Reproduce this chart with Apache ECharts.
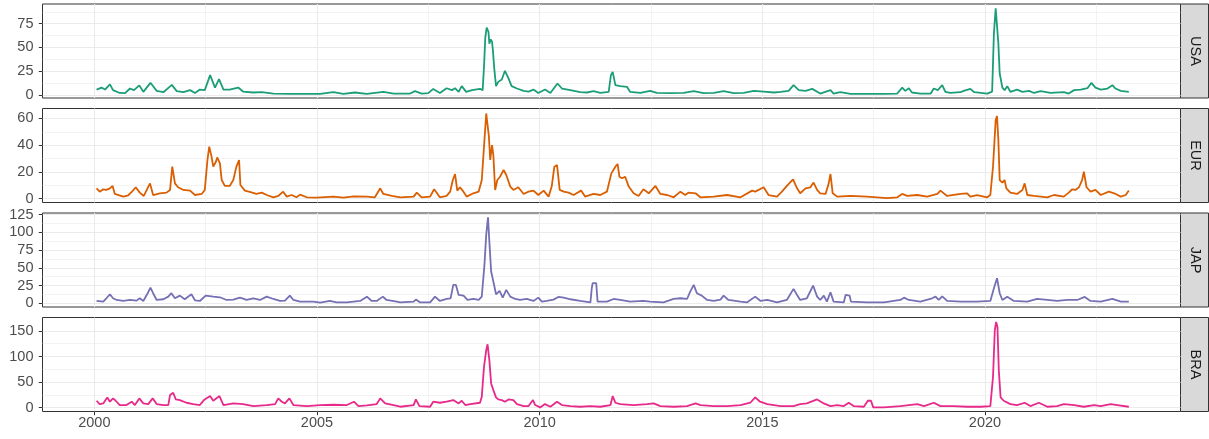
<!DOCTYPE html>
<html>
<head>
<meta charset="utf-8">
<title>Facets</title>
<script src="https://cdn.jsdelivr.net/npm/echarts@6/dist/echarts.min.js"></script>
<style>
  html, body { margin: 0; padding: 0; background: #fff; }
  #chart { width: 1209px; height: 439px; }
</style>
</head>
<body>
<div id="chart"></div>
<script>
// panel names, top to bottom
var panels = ['USA', 'EUR', 'JAP', 'BRA'];

// [decimal year, value]
var usa = [
  [2000.05,5.6],[2000.16,7.7],[2000.24,5.6],[2000.35,11],[2000.42,5],[2000.57,2],[2000.69,1.8],[2000.80,6.7],
  [2000.89,5],[2001.01,10],[2001.10,3.2],[2001.26,12.7],[2001.40,4.2],[2001.55,2.8],[2001.74,10.5],[2001.85,3.9],
  [2002.00,2.8],[2002.15,5],[2002.26,2],[2002.37,5.6],[2002.48,5],[2002.60,20.8],[2002.71,7.7],[2002.80,16.5],
  [2002.90,5.6],[2003.04,5.6],[2003.23,7.7],[2003.34,3.5],[2003.57,2.5],[2003.76,2.8],[2004.02,1.4],[2004.39,1.1],
  [2004.77,1.1],[2005.07,1.1],[2005.37,2.8],[2005.59,1.1],[2005.85,2.5],[2006.12,1.1],[2006.49,3.2],[2006.72,1.4],
  [2006.87,1.4],[2007.09,1.4],[2007.20,3.9],[2007.35,1.4],[2007.50,1.8],[2007.61,6.3],[2007.76,2],[2007.91,7],
  [2008.03,5],[2008.10,7],[2008.18,3.2],[2008.25,9.2],[2008.35,3.2],[2008.48,5],[2008.66,6.3],[2008.72,5],
  [2008.75,29.6],[2008.78,61],[2008.81,71],[2008.85,66.5],[2008.87,54],[2008.90,58.5],[2008.93,56],[2008.95,47],
  [2008.98,28],[2009.02,9.2],[2009.07,13.7],[2009.15,16.2],[2009.22,25.4],[2009.30,17.3],[2009.37,9.2],[2009.49,6.7],
  [2009.64,4.2],[2009.75,3.5],[2009.86,5.6],[2009.97,2],[2010.12,5.6],[2010.24,2],[2010.40,12],[2010.50,6.7],
  [2010.69,5],[2010.91,2.8],[2011.06,2.5],[2011.21,3.9],[2011.36,2],[2011.55,3.2],[2011.60,20.8],[2011.64,24.3],
  [2011.70,10.2],[2011.81,9.2],[2011.96,8.5],[2012.03,3.2],[2012.26,2],[2012.48,4.2],[2012.63,2],[2012.93,1.8],
  [2013.23,2],[2013.46,3.9],[2013.68,1.8],[2013.91,2],[2014.13,3.9],[2014.36,1.8],[2014.58,2],[2014.81,4.2],
  [2015.03,3.5],[2015.26,2.5],[2015.41,3.2],[2015.59,4.2],[2015.70,10.2],[2015.82,5],[2015.97,4.2],[2016.12,6.3],
  [2016.30,1.4],[2016.53,5],[2016.60,1.4],[2016.75,2.8],[2016.98,1.1],[2017.35,1.1],[2017.73,1.1],[2018.03,1.4],
  [2018.14,7.7],[2018.21,4.2],[2018.29,7],[2018.36,2.5],[2018.55,1.4],[2018.78,1.4],[2018.85,6.7],[2018.94,5],
  [2019.04,10.2],[2019.11,3.2],[2019.22,2],[2019.45,2.8],[2019.52,4.2],[2019.67,6.3],[2019.76,2.8],[2020.05,1.4],
  [2020.16,3.5],[2020.20,64.8],[2020.24,91.2],[2020.27,89.4],[2020.30,54.2],[2020.33,22.5],[2020.39,7.7],[2020.44,5],
  [2020.50,9.2],[2020.57,3.2],[2020.72,5.6],[2020.84,3.2],[2020.99,4.2],[2021.10,2],[2021.25,3.9],[2021.47,2],
  [2021.77,2.8],[2021.88,1.4],[2022.00,5],[2022.15,5.6],[2022.30,7],[2022.39,12.7],[2022.48,7.7],[2022.60,5.6],
  [2022.75,6.7],[2022.86,10.2],[2022.93,6.7],[2023.05,4.2],[2023.23,3.2]
];
var eur = [
  [2000.05,7.7],[2000.12,5.2],[2000.20,7],[2000.27,6.5],[2000.35,7.7],[2000.41,9.5],[2000.46,3.5],[2000.65,1.5],
  [2000.76,2.5],[2000.84,5],[2000.93,8.5],[2001.02,4.5],[2001.11,2],[2001.25,11.4],[2001.32,2.7],[2001.47,4],
  [2001.62,4.5],[2001.70,6.5],[2001.75,23.9],[2001.81,11.4],[2001.88,8.5],[2002.00,6.5],[2002.15,6],[2002.26,2.7],
  [2002.41,3.5],[2002.48,6.5],[2002.54,28.9],[2002.58,38.8],[2002.63,31.8],[2002.67,23.9],[2002.73,27.6],[2002.76,30.8],
  [2002.82,26.4],[2002.86,13.9],[2002.93,9.5],[2003.04,9.5],[2003.12,13.9],[2003.19,23.9],[2003.25,28.9],[2003.28,10.2],
  [2003.38,6],[2003.49,5],[2003.64,3.5],[2003.76,4.5],[2003.87,2.7],[2004.02,1],[2004.13,2],[2004.24,5.2],
  [2004.32,1.5],[2004.43,2.7],[2004.54,1],[2004.62,3],[2004.77,1],[2004.99,0.7],[2005.37,1.5],[2005.59,0.7],
  [2005.82,1.7],[2006.12,1.5],[2006.30,1],[2006.42,7.7],[2006.49,3.5],[2006.68,2],[2006.87,1],[2007.17,1.5],
  [2007.24,4.5],[2007.35,1],[2007.54,1.5],[2007.63,7],[2007.76,1],[2007.91,2],[2007.99,5.2],[2008.05,13.9],
  [2008.10,18.4],[2008.15,6],[2008.21,8.5],[2008.27,6],[2008.36,1.5],[2008.51,4],[2008.63,5.2],[2008.70,13.9],
  [2008.75,38.8],[2008.80,63.7],[2008.83,64.2],[2008.86,46.3],[2008.89,28.9],[2008.93,40],[2008.96,32.6],[2009.00,6.5],
  [2009.05,13.9],[2009.11,16.4],[2009.19,21.4],[2009.25,17.7],[2009.34,9],[2009.41,6.5],[2009.52,8.5],[2009.64,3.5],
  [2009.75,5.2],[2009.86,6],[2009.97,2.7],[2010.09,6],[2010.20,1.5],[2010.27,9],[2010.33,23.9],[2010.39,25.1],
  [2010.45,6.5],[2010.54,5.2],[2010.65,4.5],[2010.76,2.7],[2010.93,6],[2011.02,1.5],[2011.21,3.5],[2011.36,2.7],
  [2011.51,5.2],[2011.61,18.9],[2011.70,23.9],[2011.75,25.9],[2011.79,16.4],[2011.85,15.2],[2011.92,16.4],[2012.00,9],
  [2012.11,4],[2012.22,2],[2012.33,7],[2012.45,4],[2012.60,9.5],[2012.71,3.5],[2012.86,2.7],[2013.01,1],
  [2013.16,5.2],[2013.27,2.7],[2013.34,4.5],[2013.50,4],[2013.61,1],[2013.91,1.5],[2014.21,2.7],[2014.51,1],
  [2014.77,6],[2014.84,5.2],[2015.03,8.5],[2015.14,2.7],[2015.33,1.5],[2015.44,5.2],[2015.55,9.5],[2015.69,14.4],
  [2015.78,7.7],[2015.85,4],[2015.97,7.7],[2016.08,8.5],[2016.15,12],[2016.23,6.5],[2016.30,4],[2016.42,3.5],
  [2016.49,11.4],[2016.53,18.4],[2016.58,4],[2016.68,1.5],[2016.98,2],[2017.35,1.5],[2017.80,0.3],[2018.03,1],
  [2018.14,3.5],[2018.25,2],[2018.48,2.7],[2018.70,1.5],[2018.93,3.5],[2019.00,6],[2019.15,2],[2019.45,3.5],
  [2019.60,4],[2019.67,1.5],[2019.82,2.7],[2020.05,1],[2020.12,2.7],[2020.18,23.9],[2020.24,58.7],[2020.27,61.7],
  [2020.30,43.8],[2020.33,13.9],[2020.39,12],[2020.44,13.9],[2020.48,7.7],[2020.57,4.5],[2020.72,3.5],[2020.84,6.5],
  [2020.89,11.4],[2020.95,2.7],[2021.10,2],[2021.40,1],[2021.55,2.7],[2021.77,1.5],[2021.88,4.5],[2021.96,7],
  [2022.03,6.5],[2022.11,8.5],[2022.18,13.9],[2022.22,20.1],[2022.28,8.5],[2022.37,5.2],[2022.48,6.5],[2022.60,2.7],
  [2022.78,5.2],[2022.90,4],[2023.05,1.5],[2023.16,2.7],[2023.23,6]
];
var jap = [
  [2000.05,3.3],[2000.20,2.4],[2000.27,7.1],[2000.35,12.7],[2000.42,7.1],[2000.50,4.7],[2000.65,3.3],[2000.80,4.7],
  [2000.95,3.8],[2001.02,7.1],[2001.10,3.3],[2001.21,15.6],[2001.26,22.2],[2001.32,14.2],[2001.40,4.7],[2001.55,5.7],
  [2001.66,9.4],[2001.73,14.2],[2001.81,7.1],[2001.92,10.8],[2002.03,5.7],[2002.18,12.7],[2002.26,4.2],[2002.37,3.3],
  [2002.50,10.8],[2002.67,9.4],[2002.82,8.5],[2002.97,4.7],[2003.12,5.2],[2003.27,8],[2003.42,4.7],[2003.57,7.1],
  [2003.72,4.7],[2003.87,9.4],[2004.02,6.1],[2004.17,3.3],[2004.28,3.8],[2004.39,10.8],[2004.47,4.7],[2004.62,2.4],
  [2004.92,2.4],[2005.07,0.9],[2005.29,3.3],[2005.44,1.4],[2005.67,1.4],[2005.82,2.4],[2005.97,3.3],[2006.12,9.4],
  [2006.23,3.3],[2006.34,3.3],[2006.48,9.4],[2006.56,4.7],[2006.79,2.4],[2006.87,1.4],[2007.17,2.4],[2007.22,5.2],
  [2007.31,1.4],[2007.54,1.4],[2007.65,9.4],[2007.76,3.3],[2007.91,6.1],[2008.00,7.1],[2008.06,25.9],[2008.12,25.9],
  [2008.18,11.8],[2008.29,10.8],[2008.38,4.7],[2008.51,6.1],[2008.63,4.7],[2008.70,9.4],[2008.76,54.2],[2008.80,96.7],
  [2008.84,121.2],[2008.87,87.3],[2008.91,44.8],[2008.96,30.7],[2009.02,12.7],[2009.10,17.5],[2009.17,8],[2009.25,18.9],
  [2009.34,9.4],[2009.45,6.1],[2009.56,4.7],[2009.71,6.1],[2009.86,3.3],[2009.97,8],[2010.05,2.4],[2010.16,3.3],
  [2010.31,5.2],[2010.42,9],[2010.54,8],[2010.69,5.7],[2010.91,3.3],[2011.14,1.4],[2011.17,21.2],[2011.19,28.3],
  [2011.27,28.3],[2011.30,2.4],[2011.51,2.4],[2011.66,6.1],[2011.81,4.7],[2012.03,2.4],[2012.33,3.3],[2012.48,2.4],
  [2012.78,1.4],[2013.01,6.1],[2013.16,7.1],[2013.31,6.1],[2013.38,16.5],[2013.46,25.9],[2013.53,14.2],[2013.64,10.8],
  [2013.76,4.7],[2013.91,3.3],[2014.06,5.2],[2014.13,10.8],[2014.24,4.7],[2014.51,2.4],[2014.66,1.4],[2014.84,9.4],
  [2014.96,3.3],[2015.11,4.7],[2015.33,1.4],[2015.55,4.7],[2015.70,20.3],[2015.78,11.8],[2015.85,4.7],[2016.00,7.1],
  [2016.14,25],[2016.23,9.4],[2016.30,4.7],[2016.38,10.8],[2016.45,2.4],[2016.53,15.6],[2016.60,2.4],[2016.83,1.4],
  [2016.87,11.8],[2016.96,10.8],[2016.99,2.4],[2017.35,1.4],[2017.73,1.4],[2018.10,4.7],[2018.18,8],[2018.29,4.7],
  [2018.55,2.4],[2018.81,7.1],[2018.89,9.4],[2018.96,4.7],[2019.04,9.9],[2019.15,3.3],[2019.45,2.4],[2019.82,2.4],
  [2020.12,3.3],[2020.20,21.2],[2020.27,35.4],[2020.33,14.2],[2020.39,4.7],[2020.50,9.4],[2020.65,3.3],[2020.95,2.4],
  [2021.17,6.1],[2021.40,4.7],[2021.62,3.3],[2021.85,4.7],[2022.07,4.7],[2022.24,9],[2022.37,3.3],[2022.60,2.4],
  [2022.86,6.1],[2023.05,2.4],[2023.23,2.4]
];
var bra = [
  [2000.05,13.6],[2000.12,7.1],[2000.20,8.4],[2000.29,20.1],[2000.35,11.7],[2000.42,18.2],[2000.48,13.6],[2000.57,5.2],
  [2000.72,5.2],[2000.84,11.7],[2000.91,5.2],[2001.01,18.2],[2001.10,8.4],[2001.21,7.1],[2001.31,18.2],[2001.40,7.1],
  [2001.55,5.2],[2001.66,5.2],[2001.70,24.7],[2001.77,29.2],[2001.83,16.2],[2001.92,14.9],[2002.07,9.7],[2002.22,7.1],
  [2002.37,5.2],[2002.46,14.9],[2002.60,22.7],[2002.67,13.6],[2002.81,22.7],[2002.90,5.2],[2003.12,8.4],[2003.34,7.1],
  [2003.57,3.2],[2003.87,5.2],[2004.06,7.1],[2004.13,18.2],[2004.21,11.7],[2004.28,8.4],[2004.38,18.2],[2004.47,5.2],
  [2004.77,3.2],[2005.07,5.2],[2005.37,5.8],[2005.67,5.2],[2005.83,11.7],[2005.93,3.2],[2006.12,4.5],[2006.34,7.1],
  [2006.42,18.2],[2006.53,8.4],[2006.72,5.2],[2006.87,1.9],[2007.17,5.2],[2007.22,16.2],[2007.30,3.2],[2007.54,1.9],
  [2007.61,11.7],[2007.76,9.7],[2007.91,11.7],[2008.06,14.9],[2008.18,8.4],[2008.25,13.6],[2008.33,5.2],[2008.44,7.1],
  [2008.66,9.7],[2008.70,21.4],[2008.75,79.9],[2008.80,112.3],[2008.83,124],[2008.87,92.9],[2008.91,47.4],[2008.96,34.4],
  [2009.02,20.1],[2009.07,16.2],[2009.15,14.9],[2009.22,11.7],[2009.30,16.2],[2009.41,14.9],[2009.49,7.1],[2009.64,3.2],
  [2009.75,3.2],[2009.85,14.9],[2009.90,5.2],[2010.01,0.6],[2010.12,7.1],[2010.24,1.9],[2010.39,11.7],[2010.50,5.2],
  [2010.69,3.2],[2010.91,1.9],[2011.14,3.2],[2011.36,1.9],[2011.59,5.2],[2011.64,22.7],[2011.70,9.7],[2011.81,7.1],
  [2012.11,5.2],[2012.41,7.1],[2012.56,8.4],[2012.71,3.2],[2013.01,1.9],[2013.31,3.2],[2013.50,8.4],[2013.61,5.2],
  [2013.91,3.2],[2014.21,3.2],[2014.51,5.2],[2014.73,9.7],[2014.84,20.1],[2014.95,11.7],[2015.11,7.1],[2015.41,3.2],
  [2015.70,3.2],[2015.85,7.1],[2016.00,8.4],[2016.23,16.2],[2016.38,8.4],[2016.53,3.2],[2016.68,5.2],[2016.83,3.2],
  [2016.94,9.7],[2017.05,3.2],[2017.28,1.9],[2017.37,13.6],[2017.44,13.6],[2017.49,0.6],[2017.73,0.6],[2018.10,3.2],
  [2018.48,7.1],[2018.63,3.2],[2018.85,9.7],[2019.00,3.2],[2019.30,3.2],[2019.60,1.9],[2019.90,1.9],[2020.12,3.2],
  [2020.18,60.4],[2020.22,151.3],[2020.25,167.5],[2020.28,157.8],[2020.31,73.4],[2020.35,20.1],[2020.42,13.6],[2020.57,7.1],
  [2020.72,5.2],[2020.89,9.7],[2021.02,3.2],[2021.21,9.7],[2021.40,1.9],[2021.62,3.2],[2021.77,7.1],[2022.00,5.2],
  [2022.22,1.9],[2022.45,5.2],[2022.60,3.2],[2022.82,7.1],[2022.97,5.2],[2023.23,1.9]
];
var seriesData = [usa, eur, jap, bra];

// axis breaks
var yearBreaks = [2000, 2005, 2010, 2015, 2020];
var yearMinor = [2002.5, 2007.5, 2012.5, 2017.5, 2022.5];
var yBreaks = [[0, 25, 50, 75], [0, 20, 40, 60], [0, 25, 50, 75, 100, 125], [0, 50, 100, 150]];
var yMinor = [[12.5, 37.5, 62.5, 87.5], [10, 30, 50], [12.5, 37.5, 62.5, 87.5, 112.5], [25, 75, 125]];

// layout / styling
var colors = ['#1b9e77', '#d95f02', '#7570b3', '#e7298a'];
var yLimits = [[-3.3, 95.8], [-2.9, 67.4], [-5.2, 127.2], [-7.4, 176.2]];
var xMin = 1998.836, xMax = 2024.39;
var panelTop = [4, 108.5, 213, 317.5];
var panelH = 94;
var plotLeft = 42.5, plotRight = 1180.5;
var font = 'Liberation Sans, Arial, sans-serif';
var fontSize = 14.5;
var gridCol = '#ebebeb';

function plain(v) { return String(v); }

var grids = [], xAxes = [], yAxes = [], series = [], graphics = [];

panels.forEach(function (name, i) {
  var last = i === panels.length - 1;
  grids.push({
    left: plotLeft, top: panelTop[i], width: plotRight - plotLeft, height: panelH,
    show: true, borderColor: '#333333', borderWidth: 1, backgroundColor: '#fff',
    outerBoundsMode: 'none'
  });
  // minor x grid
  xAxes.push({
    type: 'value', gridIndex: i, min: xMin, max: xMax, position: 'bottom',
    axisLine: { show: false }, axisLabel: { show: false },
    axisTick: { show: false, customValues: yearMinor },
    splitLine: { show: true, lineStyle: { color: gridCol, width: 0.6 } }
  });
  // major x grid (+ labels on bottom panel)
  xAxes.push({
    type: 'value', gridIndex: i, min: xMin, max: xMax, position: 'bottom',
    axisLine: { show: false, onZero: false },
    axisTick: { show: last, customValues: yearBreaks, length: 3.7, lineStyle: { color: '#333333', width: 1 } },
    axisLabel: { show: last, customValues: yearBreaks, formatter: plain, color: '#4d4d4d',
      fontSize: fontSize, fontFamily: font, margin: 4 },
    splitLine: { show: true, lineStyle: { color: gridCol, width: 1.1 } }
  });
  yAxes.push({
    type: 'value', gridIndex: i, min: yLimits[i][0], max: yLimits[i][1], position: 'left',
    axisLine: { show: false }, axisLabel: { show: false },
    axisTick: { show: false, customValues: yMinor[i] },
    splitLine: { show: true, lineStyle: { color: gridCol, width: 0.6 } }
  });
  yAxes.push({
    type: 'value', gridIndex: i, min: yLimits[i][0], max: yLimits[i][1], position: 'left',
    axisLine: { show: false, onZero: false },
    axisTick: { show: true, customValues: yBreaks[i], length: 3.7, lineStyle: { color: '#333333', width: 1 } },
    axisLabel: { customValues: yBreaks[i], formatter: plain, color: '#4d4d4d',
      fontSize: fontSize, fontFamily: font, margin: 9 },
    splitLine: { show: true, lineStyle: { color: gridCol, width: 1.1 } }
  });
  series.push({
    type: 'line', name: name, data: seriesData[i],
    xAxisIndex: 2 * i + 1, yAxisIndex: 2 * i + 1,
    showSymbol: false, symbol: 'none', smooth: false,
    lineStyle: { color: colors[i], width: 1.8 },
    itemStyle: { color: colors[i] },
    z: 5
  });
  // facet strip on the right
  graphics.push({
    type: 'rect',
    shape: { x: plotRight, y: panelTop[i], width: 1208.5 - plotRight, height: panelH },
    style: { fill: '#d9d9d9', stroke: '#333333', lineWidth: 1 }
  });
  graphics.push({
    type: 'text', x: (plotRight + 1208.5) / 2, y: panelTop[i] + panelH / 2,
    rotation: -Math.PI / 2,
    style: { text: name, fill: '#1a1a1a', font: fontSize + 'px ' + font, align: 'center', verticalAlign: 'middle' }
  });
});

var chart = echarts.init(document.getElementById('chart'), null, { renderer: 'canvas' });
chart.setOption({
  animation: false,
  backgroundColor: '#ffffff',
  grid: grids,
  xAxis: xAxes,
  yAxis: yAxes,
  series: series,
  graphic: graphics
});
</script>
</body>
</html>
